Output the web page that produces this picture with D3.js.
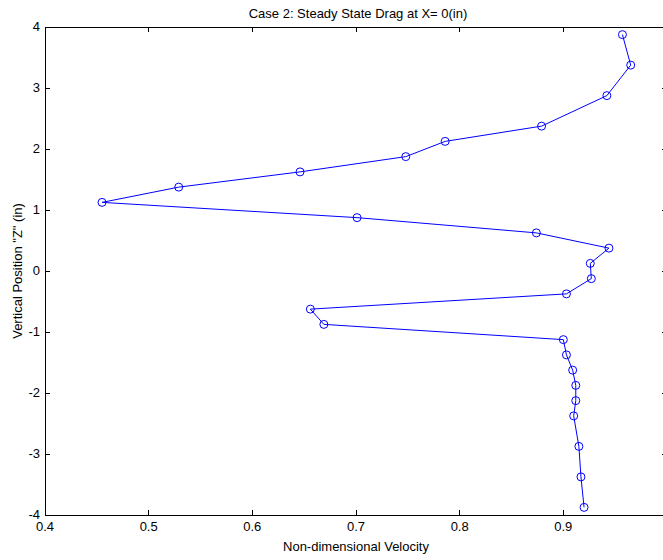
<!DOCTYPE html>
<html>
<head>
<meta charset="utf-8">
<script src="https://cdn.jsdelivr.net/npm/d3@7"></script>
<style>
  body { margin: 0; background: #fff; }
  text { font-family: "Liberation Sans", Arial, sans-serif; fill: #000; }
</style>
</head>
<body>
<script>
// velocity profile
const velocity = [0.957, 0.965, 0.942, 0.879, 0.786, 0.748, 0.646, 0.529, 0.455, 0.701,
                  0.874, 0.944, 0.926, 0.927, 0.903, 0.656, 0.669, 0.900, 0.903, 0.909,
                  0.912, 0.912, 0.910, 0.915, 0.917, 0.920];
const zPos = [3.875, 3.375, 2.875, 2.375, 2.125, 1.875, 1.625, 1.375, 1.125, 0.875,
              0.625, 0.375, 0.125, -0.125, -0.375, -0.625, -0.875, -1.125, -1.375, -1.625,
              -1.875, -2.125, -2.375, -2.875, -3.375, -3.875];
const xTicks = [0.4, 0.5, 0.6, 0.7, 0.8, 0.9, 1.0];
const yTicks = [-4, -3, -2, -1, 0, 1, 2, 3, 4];

let width = 663, height = 560;
let margin = {top: 27, right: -4, bottom: 45, left: 45};

let svg = d3.select("body").append("svg")
    .attr("width", width)
    .attr("height", height);

let x = d3.scaleLinear().domain([0.4, 1.0]).range([margin.left, width - margin.right]);
let y = d3.scaleLinear().domain([-4, 4]).range([height - margin.bottom, margin.top]);

// box
svg.append("rect")
    .attr("x", x(0.4)).attr("y", y(4))
    .attr("width", x(1.0) - x(0.4)).attr("height", y(-4) - y(4))
    .attr("fill", "none").attr("stroke", "#000").attr("stroke-width", 1)
    .attr("shape-rendering", "crispEdges");

// ticks on all four sides, pointing in
let tl = 5;
let g = svg.append("g").attr("stroke", "#000").attr("shape-rendering", "crispEdges");
xTicks.forEach(function (t) {
    g.append("line").attr("x1", x(t)).attr("x2", x(t)).attr("y1", y(-4)).attr("y2", y(-4) - tl);
    g.append("line").attr("x1", x(t)).attr("x2", x(t)).attr("y1", y(4)).attr("y2", y(4) + tl);
});
yTicks.forEach(function (t) {
    g.append("line").attr("x1", x(0.4)).attr("x2", x(0.4) + tl).attr("y1", y(t)).attr("y2", y(t));
    g.append("line").attr("x1", x(1.0)).attr("x2", x(1.0) - tl).attr("y1", y(t)).attr("y2", y(t));
});

// tick labels
svg.selectAll(".xt")
    .data(xTicks.slice(0, 6))
    .enter()
    .append("text")
    .attr("x", d => x(d))
    .attr("y", y(-4) + 16)
    .attr("text-anchor", "middle")
    .attr("font-size", "13px")
    .text(d => d3.format(".1f")(d));

svg.selectAll(".yt")
    .data(yTicks)
    .enter()
    .append("text")
    .attr("x", x(0.4) - 5)
    .attr("y", d => y(d) + 4)
    .attr("text-anchor", "end")
    .attr("font-size", "13px")
    .text(d => d < 0 ? "-" + Math.abs(d) : d);

// titles
svg.append("text")
    .attr("x", 358).attr("y", 18)
    .attr("text-anchor", "middle")
    .attr("font-size", "13px")
    .text("Case 2: Steady State Drag at X= 0(in)");

svg.append("text")
    .attr("x", 356).attr("y", 551)
    .attr("text-anchor", "middle")
    .attr("font-size", "13px")
    .text("Non-dimensional Velocity");

svg.append("text")
    .attr("transform", "translate(22," + y(0) + ") rotate(-90)")
    .attr("text-anchor", "middle")
    .attr("font-size", "13px")
    .text("Vertical Position \"Z\" (in)");

// line + markers
let pts = velocity.map((v, i) => [v, zPos[i]]);
let line = d3.line().x(d => x(d[0])).y(d => y(d[1]));

svg.append("path")
    .datum(pts)
    .attr("d", line)
    .attr("fill", "none")
    .attr("stroke", "#0000ff")
    .attr("stroke-width", 1);

svg.selectAll(".pt")
    .data(pts)
    .enter()
    .append("circle")
    .attr("cx", d => x(d[0]))
    .attr("cy", d => y(d[1]))
    .attr("r", 4)
    .attr("fill", "none")
    .attr("stroke", "#0000ff")
    .attr("stroke-width", 1);
</script>
</body>
</html>
